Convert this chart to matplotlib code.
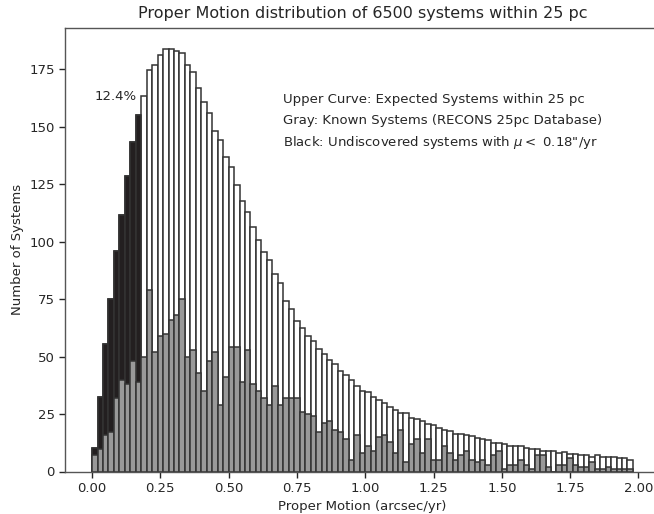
import numpy as np
import matplotlib
matplotlib.use("Agg")
import matplotlib.pyplot as plt

# ---------------------------------------------------------------------------
# Data: proper-motion histogram, 0.02 arcsec/yr bins from 0.00 to 1.98
# ---------------------------------------------------------------------------
bin_width = 0.02
mu_cut = 0.18

# expected systems within 25 pc (upper curve)
expected = [10.3, 32.6, 55.6, 75.2, 95.9, 111.4, 128.7, 143.4, 155.0, 163.5,
            174.6, 176.8, 181.1, 183.7, 183.7, 183.0, 182.1, 176.9, 173.8, 166.9,
            160.8, 156.0, 148.0, 144.1, 136.6, 132.3, 124.7, 117.7, 112.9, 106.4,
            100.9, 95.5, 91.9, 86.0, 82.0, 74.1, 70.8, 65.4, 62.5, 58.9,
            56.6, 53.1, 51.1, 48.6, 46.6, 43.5, 41.8, 39.6, 37.4, 35.0,
            34.5, 32.4, 31.2, 29.7, 28.0, 26.9, 25.6, 25.6, 23.2, 22.8,
            21.8, 20.5, 20.3, 18.9, 18.1, 17.8, 16.4, 16.2, 16.0, 15.3,
            14.7, 14.3, 13.5, 12.6, 12.6, 11.9, 11.0, 10.9, 10.9, 10.3,
            9.9, 9.6, 9.1, 8.8, 8.8, 8.0, 8.4, 7.4, 7.7, 7.0,
            7.0, 6.5, 7.0, 6.5, 6.5, 6.2, 6.0, 5.8, 5.1]

# known systems (RECONS 25pc database)
known = [7, 10, 16, 17, 32, 40, 38, 48, 39, 50,
         79, 52, 59, 60, 66, 68, 75, 50, 53, 43,
         35, 48, 52, 29, 41, 54, 54, 39, 53, 38,
         35, 32, 29, 37, 29, 32, 32, 32, 26, 25,
         24, 17, 21, 22, 18, 17, 14, 5, 16, 8,
         11, 9, 15, 16, 13, 8, 18, 4, 12, 14,
         8, 14, 5, 5, 11, 8, 5, 7, 9, 5,
         4, 5, 3, 7, 9, 1, 3, 3, 5, 3,
         1, 7, 7, 2, 0, 3, 3, 6, 3, 2,
         2, 4, 1, 1, 2, 1, 1, 1, 1]

expected = np.array(expected)
known = np.array(known)
left_edges = np.arange(len(expected)) * bin_width
slow = left_edges < mu_cut - 1e-9

txt_color = "#262626"
edge_color = "#333333"

fig = plt.figure(figsize=(6.54, 5.14), dpi=100)
ax = fig.add_axes([65 / 654, 42.5 / 514, 595 / 654, 443.5 / 514])

# upper curve (white), undiscovered slow movers (black), known (gray)
ax.bar(left_edges, expected, width=bin_width, align="edge",
       color="white", edgecolor=edge_color, linewidth=1.1)
ax.bar(left_edges[slow], expected[slow], width=bin_width, align="edge",
       color="#231f20", edgecolor=edge_color, linewidth=1.1)
ax.bar(left_edges, known, width=bin_width, align="edge",
       color="#999999", edgecolor=edge_color, linewidth=1.1)

frac = expected[slow].sum() / 6500 * 100
ax.text(0.165, 163, f"{frac:.1f}%", ha="right", va="center",
        fontsize=9.5, color=txt_color)

ax.text(0.70, 162, "Upper Curve: Expected Systems within 25 pc",
        fontsize=9.5, color=txt_color, va="center")
ax.text(0.70, 152.6, "Gray: Known Systems (RECONS 25pc Database)",
        fontsize=9.5, color=txt_color, va="center")
ax.text(0.70, 143.2, r'Black: Undiscovered systems with $\mu <$ 0.18"/yr',
        fontsize=9.5, color=txt_color, va="center")

ax.set_xticks(np.arange(0, 2.01, 0.25))
ax.set_xticklabels([f"{t:.2f}" for t in np.arange(0, 2.01, 0.25)])
ax.set_yticks(np.arange(0, 176, 25))

ax.set_xlabel("Proper Motion (arcsec/yr)", fontsize=9.5, color=txt_color)
ax.set_ylabel("Number of Systems", fontsize=9.5, color=txt_color)
ax.set_title("Proper Motion distribution of 6500 systems within 25 pc",
             fontsize=11.5, color=txt_color, pad=7)

ax.tick_params(labelsize=9.5, colors=txt_color, direction="out", length=4, width=1)
for sp in ax.spines.values():
    sp.set_color("#555555")
    sp.set_linewidth(1)

fig.savefig("out.png", dpi=100)
